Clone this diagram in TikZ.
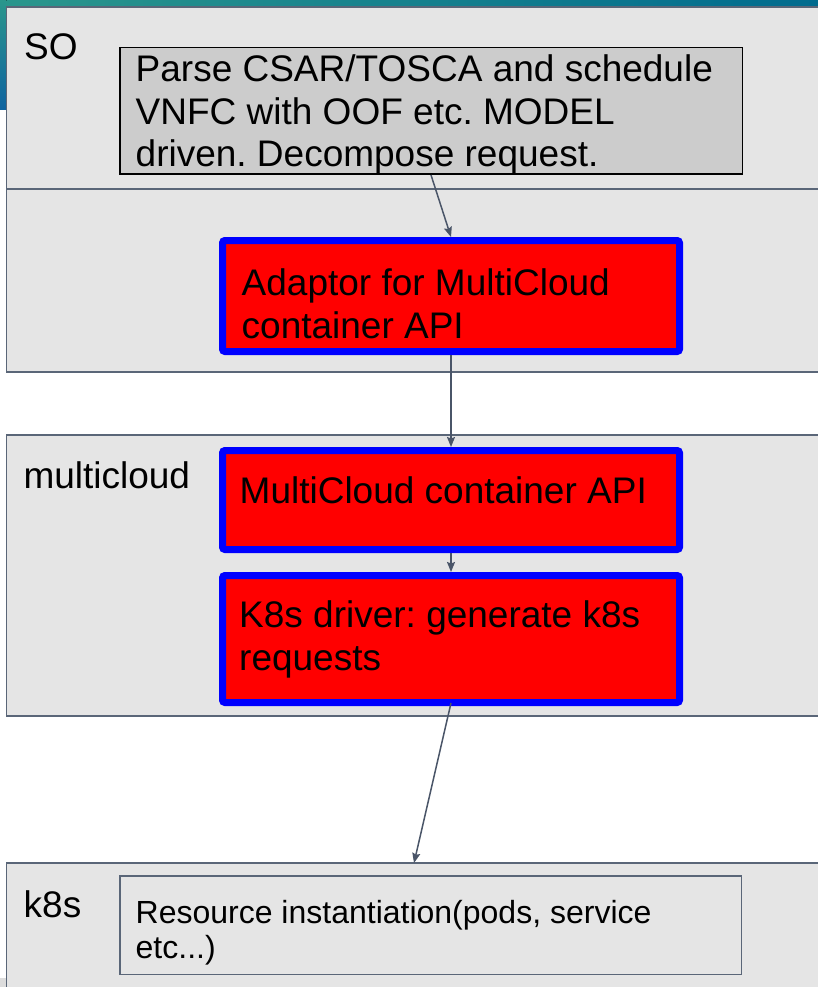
\documentclass[tikz,border=0pt]{standalone}
\usepackage{fontspec}
\setmainfont{Liberation Sans}
\usetikzlibrary{arrows.meta,calc}
\frenchspacing
\definecolor{panelfill}{HTML}{E5E5E5}
\definecolor{panelline}{HTML}{5A6678}
\definecolor{arrowc}{HTML}{4A5568}
\definecolor{boxgray}{HTML}{CCCCCC}
\definecolor{tealA}{HTML}{2A968C}
\definecolor{tealB}{HTML}{006B8E}
\definecolor{tealC}{HTML}{0E63A0}
\definecolor{stripgray}{HTML}{DCDCDC}
\begin{document}
\begin{tikzpicture}[x=1pt,y=-1pt,
  panel/.style={draw=panelline, fill=panelfill, line width=1.5pt, anchor=north west,
    inner sep=0pt, outer sep=0pt, minimum width=840pt},
  graybox/.style={draw=black, fill=boxgray, line width=1.5pt, inner sep=0pt},
  redbox/.style={draw=blue, fill=red, line width=7pt, rounded corners=2.5pt,
    inner sep=0pt, minimum width=457pt},
  resbox/.style={draw=panelline, fill=panelfill, line width=1.5pt, inner sep=0pt},
  lbl/.style={anchor=base west, inner sep=0pt, font=\fontsize{37}{42.5}\selectfont},
  txt/.style={anchor=base west, inner sep=0pt, align=left, font=\fontsize{37}{42.5}\selectfont\frenchspacing},
  smalltxt/.style={anchor=base west, inner sep=0pt, align=left, font=\fontsize{32}{35}\selectfont\frenchspacing},
  arr/.style={draw=arrowc, line width=1.5pt, -{Stealth[length=10pt,width=8pt,inset=1.5pt]}}
]
\useasboundingbox (0,0) rectangle (818,987);
\clip (0,0) rectangle (818,987);

% background fragments
\fill[left color=tealA, right color=tealB] (0,0) rectangle (818,7.5);
\fill[top color=tealA, bottom color=tealC] (0,0) rectangle (6.5,110);
\fill[stripgray] (0,978) rectangle (6.5,987);

% panels
\node[panel, minimum height=182pt] (sopanel) at (6.5,7) {};
\node[panel, minimum height=183pt] (adpanel) at (6.5,189) {};
\node[panel, minimum height=281pt] (mcpanel) at (6.5,435) {};
\node[panel, minimum height=140pt] (k8spanel) at (6.5,863) {};

% inner boxes
\node[graybox, minimum width=622.5pt, minimum height=126.5pt] (parse) at (431,111) {};
\node[redbox, minimum height=111pt] (adaptor) at (451,296) {};
\node[redbox, minimum height=99pt] (mcapi) at (451,500) {};
\node[redbox, minimum height=127pt] (k8sdrv) at (451,639) {};
\node[resbox, minimum width=621.5pt, minimum height=98.5pt] (res) at (430.5,925) {};

% texts (multi-line: position is the baseline of the last line)
\node[lbl] (tso) at (24,60) {SO};
\node[lbl] (tmulti) at (23.3,488) {multicloud};
\node[lbl] (tk8s) at (23.5,917) {k8s};
\node[txt] (tparse) at (135.5,167) {Parse CSAR/TOSCA and schedule\\VNFC with OOF etc. MODEL\\driven. Decompose request.};
\node[txt] (tadapt) at (241.5,338) {Adaptor for MultiCloud\\container API};
\node[txt] (tmc) at (239.5,503) {MultiCloud container API};
\node[txt] (tk8sd) at (239,670) {K8s driver: generate k8s\\requests};
\node[smalltxt] (tres) at (135.5,958) {Resource instantiation(pods, service\\etc...)};

% connectors
\coordinate (k8starget) at (414,863);
\draw[arr] (parse.south) -- (adaptor.north);
\draw[arr] (adaptor.south) -- (mcapi.north);
\draw[arr] (mcapi.south) -- (k8sdrv.north);
\draw[arr] ($(k8sdrv.south)+(0,-3)$) -- (k8starget);
\end{tikzpicture}
\end{document}
